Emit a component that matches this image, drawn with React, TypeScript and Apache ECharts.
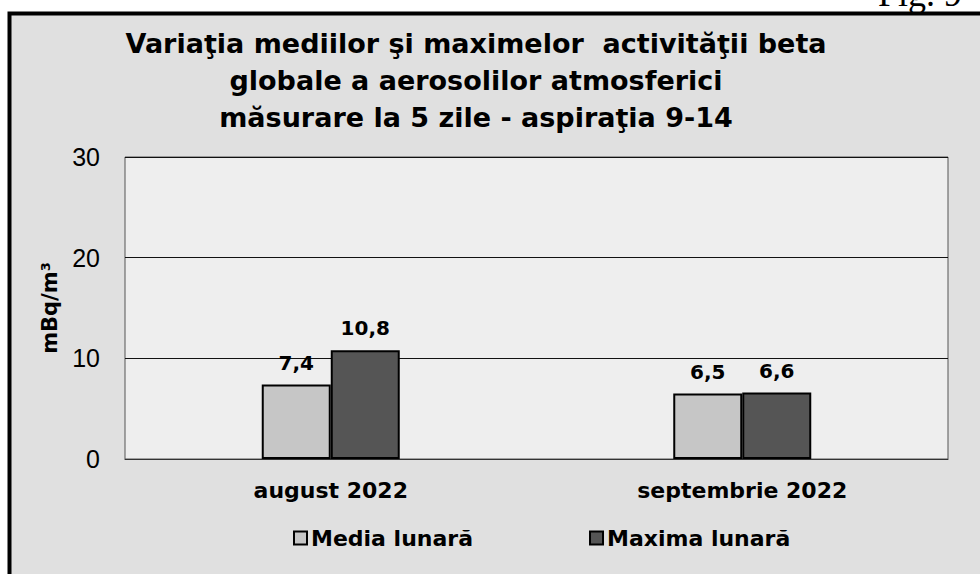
import React, { useEffect, useRef } from "react";
import * as echarts from "echarts";

const categories = ["august 2022", "septembrie 2022"];
const mediaLunara = [7.4, 6.5];
const maximaLunara = [10.8, 6.6];
const seriesNames = ["Media lunară", "Maxima lunară"];
const yTicks = { min: 0, max: 30, interval: 10 };
const titleText =
  "Variaţia mediilor şi maximelor  activităţii beta\nglobale a aerosolilor atmosferici\nmăsurare la 5 zile - aspiraţia 9-14";
const yAxisName = "mBq/m³";

const BOLD = "DejaVu Sans";

export default function App() {
  const ref = useRef<HTMLDivElement>(null);
  useEffect(() => {
    if (!ref.current) return;
    const chart = echarts.init(ref.current, undefined, { renderer: "svg" });
    const labelCfg = {
      show: true,
      position: "top" as const,
      distance: 12,
      color: "#000",
      fontFamily: BOLD,
      fontWeight: "bold" as const,
      fontSize: 20,
      formatter: (p: any) => String(p.value).replace(".", ","),
    };
    chart.setOption({
      animation: false,
      backgroundColor: "#ffffff",
      graphic: [
        {
          type: "text",
          z: -20,
          x: 962,
          y: 12,
          style: {
            text: "Fig. 9",
            font: "36px 'Liberation Serif'",
            fill: "#000",
            align: "right",
            verticalAlign: "bottom",
          },
        },
        {
          type: "rect",
          z: -10,
          shape: { x: 9.5, y: 13.5, width: 1000, height: 600 },
          style: { fill: "#e0e0e0", stroke: "#000", lineWidth: 4 },
        },
        {
          type: "text",
          x: 476,
          y: 25,
          style: {
            text: titleText,
            font: `bold 27px '${BOLD}'`,
            fill: "#000",
            align: "center",
            verticalAlign: "top",
            lineHeight: 37,
          },
        },
      ],
      legend: {
        left: 293,
        top: 527,
        padding: 0,
        itemWidth: 13,
        itemHeight: 13,
        itemGap: 116,
        icon: "rect",
        textStyle: {
          fontFamily: BOLD,
          fontWeight: "bold",
          fontSize: 22,
          color: "#000",
          padding: [0, 0, 0, -1],
        },
        data: seriesNames,
      },
      grid: {
        left: 125,
        right: 32,
        top: 157,
        bottom: 115,
        show: true,
        backgroundColor: "#eeeeee",
        borderColor: "#555",
        borderWidth: 1,
      },
      xAxis: {
        type: "category",
        data: categories,
        axisTick: { show: false },
        axisLine: { lineStyle: { color: "#333", width: 1 } },
        axisLabel: {
          margin: 20,
          color: "#000",
          fontFamily: BOLD,
          fontWeight: "bold",
          fontSize: 22,
        },
      },
      yAxis: {
        type: "value",
        min: yTicks.min,
        max: yTicks.max,
        interval: yTicks.interval,
        name: yAxisName,
        nameLocation: "middle",
        nameGap: 65,
        nameTextStyle: {
          color: "#000",
          fontFamily: BOLD,
          fontWeight: "bold",
          fontSize: 21,
        },
        axisLine: { show: false },
        axisTick: { show: false },
        axisLabel: {
          margin: 25,
          color: "#000",
          fontFamily: "Liberation Sans",
          fontSize: 25,
        },
        splitLine: { lineStyle: { color: "#111", width: 1 } },
      },
      series: [
        {
          name: seriesNames[0],
          type: "bar",
          data: mediaLunara,
          barWidth: 69,
          barGap: "0%",
          itemStyle: { color: "#c6c6c6", borderColor: "#000", borderWidth: 2 },
          label: labelCfg,
        },
        {
          name: seriesNames[1],
          type: "bar",
          data: maximaLunara,
          barWidth: 69,
          barGap: "0%",
          itemStyle: { color: "#555555", borderColor: "#000", borderWidth: 2 },
          label: labelCfg,
        },
      ],
    });
    return () => chart.dispose();
  }, []);
  return (
    <div
      ref={ref}
      style={{ position: "fixed", left: 0, top: 0, width: 980, height: 574 }}
    />
  );
}
